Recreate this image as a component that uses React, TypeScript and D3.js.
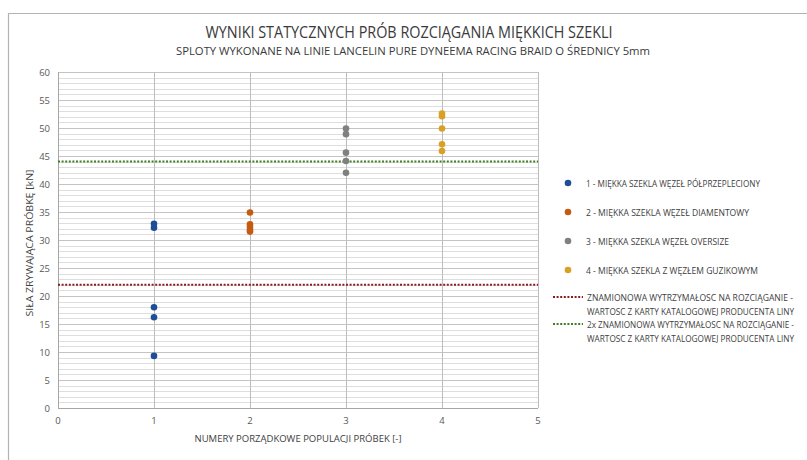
import * as d3 from "d3"
import { useEffect, useRef } from "react"

// values
const series1 = [32.9, 32.2, 18.0, 16.2, 9.3]
const series2 = [34.9, 32.8, 32.3, 31.8, 31.5]
const series3 = [49.9, 48.9, 45.6, 44.1, 42.0]
const series4 = [52.6, 52.1, 49.9, 47.1, 45.9]
const seriesX = [1, 2, 3, 4]
const seriesNames = [
    "1 - MIĘKKA SZEKLA WĘZEŁ PÓŁPRZEPLECIONY",
    "2 - MIĘKKA SZEKLA WĘZEŁ DIAMENTOWY",
    "3 - MIĘKKA SZEKLA WĘZEŁ OVERSIZE",
    "4 - MIĘKKA SZEKLA Z WĘZŁEM GUZIKOWYM",
]
const seriesColors = ["#1f4e96", "#c55a11", "#808080", "#d9a124"]
const refValues = [22, 44]
const refColors = ["#8b1c1c", "#3f7f1f"]
const refNames = [
    ["ZNAMIONOWA WYTRZYMAŁOSC NA ROZCIĄGANIE -", "WARTOSC Z KARTY KATALOGOWEJ PRODUCENTA LINY"],
    ["2x ZNAMIONOWA WYTRZYMAŁOSC NA ROZCIĄGANIE -", "WARTOSC Z KARTY KATALOGOWEJ PRODUCENTA LINY"],
]
const yTicks = d3.range(0, 61, 5)
const xTicks = [0, 1, 2, 3, 4, 5]

const FONT = "'Open Sans', 'Liberation Sans', sans-serif"

export default function App() {
    const svgRef = useRef<SVGSVGElement>(null)

    useEffect(() => {
        if (!svgRef.current) return
        const svg = d3.select(svgRef.current)
        svg.selectAll("*").remove()

        const width = 807
        const height = 460
        const margin = { top: 72, right: 269, bottom: 52, left: 58 }

        const x = d3.scaleLinear().domain([0, 5]).range([margin.left, width - margin.right])
        const y = d3.scaleLinear().domain([0, 60]).range([height - margin.bottom, margin.top])

        svg.append("rect").attr("width", width).attr("height", height).attr("fill", "#fff")

        // chart frame (cut off at right/bottom)
        svg.append("path")
            .attr("d", `M8.5,${height} V13.5 H${width}`)
            .attr("fill", "none")
            .attr("stroke", "#b3b3b3")
            .attr("stroke-width", 1.2)

        // titles
        svg.append("text")
            .attr("x", 409).attr("y", 38)
            .attr("text-anchor", "middle")
            .attr("font-family", FONT).attr("font-size", 15.5)
            .attr("fill", "#3a3a3a")
            .attr("textLength", 407).attr("lengthAdjust", "spacingAndGlyphs")
            .text("WYNIKI STATYCZNYCH PRÓB ROZCIĄGANIA MIĘKKICH SZEKLI")
        svg.append("text")
            .attr("x", 413).attr("y", 55)
            .attr("text-anchor", "middle")
            .attr("font-family", FONT).attr("font-size", 10.5)
            .attr("fill", "#3a3a3a")
            .attr("textLength", 474).attr("lengthAdjust", "spacingAndGlyphs")
            .text("SPLOTY WYKONANE NA LINIE LANCELIN PURE DYNEEMA RACING BRAID O ŚREDNICY 5mm")

        // minor gridlines
        svg.append("g")
            .selectAll("line")
            .data(d3.range(1, 60).filter((v) => v % 5 !== 0))
            .join("line")
            .attr("x1", x(0)).attr("x2", x(5))
            .attr("y1", (d) => Math.round(y(d)) + 0.5).attr("y2", (d) => Math.round(y(d)) + 0.5)
            .attr("stroke", "#dedede")

        // major gridlines
        svg.append("g")
            .selectAll("line")
            .data(yTicks.slice(1))
            .join("line")
            .attr("x1", x(0)).attr("x2", x(5))
            .attr("y1", (d) => Math.round(y(d)) + 0.5).attr("y2", (d) => Math.round(y(d)) + 0.5)
            .attr("stroke", "#c4c4c4")

        svg.append("g")
            .selectAll("line")
            .data(xTicks.slice(1))
            .join("line")
            .attr("x1", (d) => Math.round(x(d)) + 0.5).attr("x2", (d) => Math.round(x(d)) + 0.5)
            .attr("y1", y(0)).attr("y2", y(60))
            .attr("stroke", "#bdbdbd")

        // axes lines
        svg.append("line")
            .attr("x1", x(0) + 0.5).attr("x2", x(0) + 0.5)
            .attr("y1", y(0)).attr("y2", y(60))
            .attr("stroke", "#a6a6a6")
        svg.append("line")
            .attr("x1", x(0)).attr("x2", x(5))
            .attr("y1", y(0) + 0.5).attr("y2", y(0) + 0.5)
            .attr("stroke", "#a6a6a6")

        // tick labels
        svg.append("g")
            .selectAll("text")
            .data(yTicks)
            .join("text")
            .attr("x", x(0) - 8).attr("y", (d) => y(d) + 3.5)
            .attr("text-anchor", "end")
            .attr("font-family", FONT).attr("font-size", 9.5)
            .attr("fill", "#595959")
            .text((d) => d)
        svg.append("g")
            .selectAll("text")
            .data(xTicks)
            .join("text")
            .attr("x", (d) => x(d)).attr("y", y(0) + 16)
            .attr("text-anchor", "middle")
            .attr("font-family", FONT).attr("font-size", 9.5)
            .attr("fill", "#595959")
            .text((d) => d)

        // axis titles
        svg.append("text")
            .attr("x", 298).attr("y", 442)
            .attr("text-anchor", "middle")
            .attr("font-family", FONT).attr("font-size", 9.5)
            .attr("fill", "#404040")
            .attr("textLength", 207).attr("lengthAdjust", "spacingAndGlyphs")
            .text("NUMERY PORZĄDKOWE POPULACJI PRÓBEK [-]")
        svg.append("text")
            .attr("transform", `translate(33,243) rotate(-90)`)
            .attr("text-anchor", "middle")
            .attr("font-family", FONT).attr("font-size", 9.5)
            .attr("fill", "#404040")
            .attr("textLength", 147).attr("lengthAdjust", "spacingAndGlyphs")
            .text("SIŁA ZRYWAJĄCA PRÓBKĘ [kN]")

        // reference lines
        refValues.forEach((v, i) => {
            svg.append("line")
                .attr("x1", x(0)).attr("x2", x(5))
                .attr("y1", y(v)).attr("y2", y(v))
                .attr("stroke", refColors[i])
                .attr("stroke-width", 2)
                .attr("stroke-dasharray", "2,1.6")
        })

        // points
        const allSeries = [series1, series2, series3, series4]
        allSeries.forEach((vals, i) => {
            svg.append("g")
                .selectAll("circle")
                .data(vals)
                .join("circle")
                .attr("cx", x(seriesX[i]))
                .attr("cy", (d) => y(d))
                .attr("r", 3.3)
                .attr("fill", seriesColors[i])
        })

        // legend
        const legendRows = [183, 212, 241, 270]
        const legendWidths = [174, 163, 143, 172]
        seriesNames.forEach((name, i) => {
            svg.append("circle")
                .attr("cx", 568).attr("cy", legendRows[i])
                .attr("r", 3.3)
                .attr("fill", seriesColors[i])
            svg.append("text")
                .attr("x", 586).attr("y", legendRows[i] + 3.5)
                .attr("font-family", FONT).attr("font-size", 9)
                .attr("fill", "#404040")
                .attr("textLength", legendWidths[i]).attr("lengthAdjust", "spacingAndGlyphs")
                .text(name)
        })
        const refRows = [297, 324]
        const refWidths = [[206, 207], [207, 207]]
        refNames.forEach((lines, i) => {
            svg.append("line")
                .attr("x1", 553).attr("x2", 583)
                .attr("y1", refRows[i]).attr("y2", refRows[i])
                .attr("stroke", refColors[i])
                .attr("stroke-width", 2)
                .attr("stroke-dasharray", "2,1.6")
            lines.forEach((t, j) => {
                svg.append("text")
                    .attr("x", 587).attr("y", refRows[i] + 3.5 + j * 14)
                    .attr("font-family", FONT).attr("font-size", 8.5)
                    .attr("fill", "#404040")
                    .attr("textLength", refWidths[i][j]).attr("lengthAdjust", "spacingAndGlyphs")
                    .text(t)
            })
        })
    }, [])

    return (
        <svg
            ref={svgRef}
            width={807}
            height={460}
            viewBox="0 0 807 460"
            style={{ position: "absolute", left: 0, top: 0, display: "block" }}
        />
    )
}
